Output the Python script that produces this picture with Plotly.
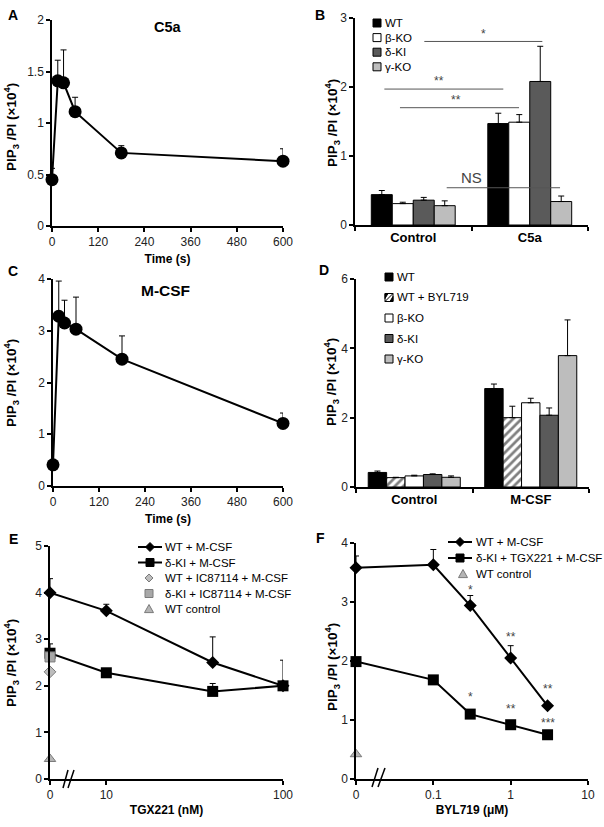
import math
import plotly.graph_objects as go

W, H = 604, 827
FONT = "Liberation Sans"

# A / C: time courses (s)
time_s = [0, 15, 30, 60, 180, 600]
c5a_pip3 = [0.45, 1.41, 1.39, 1.11, 0.71, 0.63]
c5a_err = [0.11, 0.20, 0.32, 0.14, 0.07, 0.12]
mcsf_pip3 = [0.41, 3.28, 3.15, 3.03, 2.45, 1.21]
mcsf_err = [0.05, 0.68, 0.44, 0.62, 0.45, 0.20]

# B: C5a bars
groups_b = ["Control", "C5a"]
names_b = ["WT", "β-KO", "δ-KI", "γ-KO"]
b_wt = [0.44, 1.47]
b_wt_err = [0.06, 0.15]
b_bko = [0.31, 1.49]
b_bko_err = [0.02, 0.11]
b_dki = [0.36, 2.08]
b_dki_err = [0.04, 0.51]
b_gko = [0.28, 0.34]
b_gko_err = [0.07, 0.08]
# significance bars (category units)
sig_x0 = [0.095, -0.248, -0.114, 0.287]
sig_x1 = [1.108, 0.773, 0.908, 1.26]
sig_y = [2.66, 1.97, 1.70, 0.54]
sig_label = ["*", "**", "**", "NS"]
sig_label_x = [0.60, 0.22, 0.37, 0.50]
sig_label_y = [2.77, 2.08, 1.81, 0.69]

# D: M-CSF bars
groups_d = ["Control", "M-CSF"]
names_d = ["WT", "WT + BYL719", "β-KO", "δ-KI", "γ-KO"]
d_wt = [0.42, 2.84]
d_wt_err = [0.04, 0.13]
d_byl = [0.27, 2.00]
d_byl_err = [0.01, 0.33]
d_bko = [0.32, 2.43]
d_bko_err = [0.02, 0.13]
d_dki = [0.36, 2.07]
d_dki_err = [0.02, 0.21]
d_gko = [0.28, 3.79]
d_gko_err = [0.04, 1.03]

# E: TGX221 dose (nM)
names_e = ["WT + M-CSF", "δ-KI + M-CSF", "WT + IC87114 + M-CSF",
           "δ-KI + IC87114 + M-CSF", "WT control"]
tgx_nM = [0, 10, 40, 100]
e_wt = [4.00, 3.61, 2.50, 2.00]
e_wt_err = [0.30, 0.14, 0.55, 0.55]
e_dki = [2.70, 2.28, 1.88, 2.00]
e_dki_err = [0.20, 0.05, 0.17, 0.05]
e_wt_ic = [2.30]
e_dki_ic = [2.62]
e_ctrl = [0.43]

# F: BYL719 dose (uM)
names_f = ["WT + M-CSF", "δ-KI + TGX221 + M-CSF", "WT control"]
byl_uM = [0, 0.1, 0.3, 1, 3]
f_wt = [3.58, 3.63, 2.94, 2.05, 1.24]
f_wt_err = [0.20, 0.26, 0.17, 0.21, 0.02]
f_dki = [1.99, 1.68, 1.10, 0.92, 0.75]
f_dki_err = [0.02, 0.02, 0.02, 0.02, 0.02]
f_ctrl = [0.42]
f_wt_stars = ["", "", "*", "**", "**"]
f_wt_star_y = [0, 0, 3.20, 2.41, 1.52]
f_dki_stars = ["", "", "*", "**", "***"]
f_dki_star_y = [0, 0, 1.39, 1.19, 0.95]

# where "0" sits on the broken log axes
ZERO_E = 4.8
ZERO_F = 0.01

DARK = "#5a5a5a"
LIGHT = "#bdbdbd"
GREY_EDGE = "#7a7a7a"


def fx(px):
    return px / W


def fy(py):
    return 1 - py / H


def on_log(vals, zero):
    return [zero if v == 0 else v for v in vals]


def err(arr):
    return dict(type="data", array=arr, symmetric=False, arrayminus=[0] * len(arr),
                color="black", thickness=1, width=3)


fig = go.Figure()
shapes = []
ann = []

# ---- A
fig.add_trace(go.Scatter(x=time_s, y=c5a_pip3, mode="lines+markers",
                         line=dict(color="black", width=2), marker=dict(size=13, color="black"),
                         error_y=err(c5a_err), cliponaxis=False, xaxis="x", yaxis="y"))

# ---- C
fig.add_trace(go.Scatter(x=time_s, y=mcsf_pip3, mode="lines+markers",
                         line=dict(color="black", width=2), marker=dict(size=13, color="black"),
                         error_y=err(mcsf_err), cliponaxis=False, xaxis="x3", yaxis="y3"))

# ---- B
b_series = [(b_wt, b_wt_err, "black"), (b_bko, b_bko_err, "white"),
            (b_dki, b_dki_err, DARK), (b_gko, b_gko_err, LIGHT)]
wb = 0.18
for i, (name, (vals, e, col)) in enumerate(zip(names_b, b_series)):
    fig.add_trace(go.Bar(x=groups_b, y=vals, name=name, error_y=err(e),
                         width=wb, offset=(i - len(b_series) / 2) * wb,
                         marker=dict(color=col, line=dict(color="black", width=1)),
                         xaxis="x2", yaxis="y2"))

# ---- D
d_series = [(d_wt, d_wt_err, "black", ""), (d_byl, d_byl_err, "white", "/"),
            (d_bko, d_bko_err, "white", ""), (d_dki, d_dki_err, DARK, ""),
            (d_gko, d_gko_err, LIGHT, "")]
wd = 0.158
for i, (name, (vals, e, col, pat)) in enumerate(zip(names_d, d_series)):
    mk = dict(color=col, line=dict(color="black", width=1))
    if pat:
        mk["pattern"] = dict(shape=pat, fgcolor="black", bgcolor="white", size=6, solidity=0.45)
    fig.add_trace(go.Bar(x=groups_d, y=vals, name=name, error_y=err(e), marker=mk,
                         width=wd, offset=(i - len(d_series) / 2) * wd,
                         xaxis="x4", yaxis="y4"))

# ---- E
xe = on_log(tgx_nM, ZERO_E)
fig.add_trace(go.Scatter(x=xe, y=e_wt, name=names_e[0], mode="lines+markers",
                         line=dict(color="black", width=2),
                         marker=dict(symbol="diamond", size=10, color="black"),
                         error_y=err(e_wt_err), cliponaxis=False, xaxis="x5", yaxis="y5"))
fig.add_trace(go.Scatter(x=xe, y=e_dki, name=names_e[1], mode="lines+markers",
                         line=dict(color="black", width=2),
                         marker=dict(symbol="square", size=11, color="black"),
                         error_y=err(e_dki_err), cliponaxis=False, xaxis="x5", yaxis="y5"))
fig.add_trace(go.Scatter(x=xe[:1], y=e_wt_ic, name=names_e[2], mode="markers",
                         marker=dict(symbol="diamond", size=9, color=LIGHT,
                                     line=dict(color=GREY_EDGE, width=1)),
                         cliponaxis=False, xaxis="x5", yaxis="y5"))
fig.add_trace(go.Scatter(x=xe[:1], y=e_dki_ic, name=names_e[3], mode="markers",
                         marker=dict(symbol="square", size=10, color="#a8a8a8",
                                     line=dict(color=GREY_EDGE, width=1)),
                         cliponaxis=False, xaxis="x5", yaxis="y5"))
fig.add_trace(go.Scatter(x=xe[:1], y=e_ctrl, name=names_e[4], mode="markers",
                         marker=dict(symbol="triangle-up", size=10, color="#b5b5b5",
                                     line=dict(color=GREY_EDGE, width=1)),
                         cliponaxis=False, xaxis="x5", yaxis="y5"))

# ---- F
xf = on_log(byl_uM, ZERO_F)
fig.add_trace(go.Scatter(x=xf, y=f_wt, name=names_f[0], mode="lines+markers",
                         line=dict(color="black", width=2),
                         marker=dict(symbol="diamond", size=10, color="black"),
                         error_y=err(f_wt_err), cliponaxis=False, xaxis="x6", yaxis="y6"))
fig.add_trace(go.Scatter(x=xf, y=f_dki, name=names_f[1], mode="lines+markers",
                         line=dict(color="black", width=2),
                         marker=dict(symbol="square", size=11, color="black"),
                         error_y=err(f_dki_err), cliponaxis=False, xaxis="x6", yaxis="y6"))
fig.add_trace(go.Scatter(x=xf[:1], y=f_ctrl, name=names_f[2], mode="markers",
                         marker=dict(symbol="triangle-up", size=10, color="#b5b5b5",
                                     line=dict(color=GREY_EDGE, width=1)),
                         cliponaxis=False, xaxis="x6", yaxis="y6"))

# ---- axes
tickfont = dict(family=FONT, size=12, color="#222")
titlefont = dict(family=FONT, size=12, color="black", weight="bold")
catfont = dict(family=FONT, size=13, color="black", weight="bold")
base = dict(showline=True, linecolor="black", linewidth=1.5, ticks="outside", ticklen=4,
            tickwidth=1.5, tickcolor="black", showgrid=False, zeroline=False,
            automargin=False, tickfont=tickfont, title_font=titlefont)

fig.update_layout(
    xaxis=dict(base, domain=[fx(52), fx(283)], range=[0, 600], dtick=120, anchor="y",
               title=dict(text="Time (s)", standoff=6)),
    yaxis=dict(base, domain=[fy(226), fy(20)], range=[0, 2.0005], anchor="x",
               tickvals=[0, 0.5, 1, 1.5, 2], ticktext=["0", "0.5", "1", "1.5", "2"]),
    xaxis2=dict(base, domain=[fx(355), fx(588)], anchor="y2", tickson="boundaries",
                range=[-0.5, 1.5], tickfont=catfont),
    yaxis2=dict(base, domain=[fy(225), fy(18)], range=[0, 3], dtick=1, anchor="x2"),
    xaxis3=dict(base, domain=[fx(53), fx(283)], range=[0, 600], dtick=120, anchor="y3",
                title=dict(text="Time (s)", standoff=6)),
    yaxis3=dict(base, domain=[fy(486), fy(279)], range=[0, 4], dtick=1, anchor="x3"),
    xaxis4=dict(base, domain=[fx(356), fx(589)], anchor="y4", tickson="boundaries",
                range=[-0.5, 1.5], tickfont=catfont),
    yaxis4=dict(base, domain=[fy(487), fy(279)], range=[0, 6], dtick=2, anchor="x4"),
    xaxis5=dict(base, domain=[fx(50), fx(283)], type="log", anchor="y5",
                range=[math.log10(ZERO_E), 2], tickvals=[ZERO_E, 10, 100],
                ticktext=["0", "10", "100"], title=dict(text="TGX221 (nM)", standoff=4)),
    yaxis5=dict(base, domain=[fy(779), fy(546)], range=[0, 5.001], anchor="x5",
                tickvals=[0, 1, 2, 3, 4, 5]),
    xaxis6=dict(base, domain=[fx(356), fx(588)], type="log", anchor="y6",
                range=[math.log10(ZERO_F), 1], tickvals=[ZERO_F, 0.1, 1, 10],
                ticktext=["0", "0.1", "1", "10"], title=dict(text="BYL719 (μM)", standoff=4)),
    yaxis6=dict(base, domain=[fy(779), fy(543)], range=[0, 4], dtick=1, anchor="x6"),
)


# ---- hand-drawn legends (pixel layout)
def leg_text(x, y, text):
    ann.append(dict(x=fx(x), y=fy(y), xref="paper", yref="paper", text=text,
                    xanchor="left", yanchor="middle", showarrow=False,
                    font=dict(family=FONT, size=11.5, color="black")))


def leg_box(cx, cy, half, fill, edge="black"):
    shapes.append(dict(type="rect", xref="paper", yref="paper",
                       x0=fx(cx - half), x1=fx(cx + half), y0=fy(cy + half), y1=fy(cy - half),
                       fillcolor=fill, line=dict(color=edge, width=1)))


def leg_poly(pts, fill, edge):
    path = "M" + " L".join(f"{fx(x):.5f},{fy(y):.5f}" for x, y in pts) + " Z"
    shapes.append(dict(type="path", xref="paper", yref="paper", path=path,
                       fillcolor=fill, line=dict(color=edge, width=1)))


def leg_line(x0, x1, y):
    shapes.append(dict(type="line", xref="paper", yref="paper", x0=fx(x0), x1=fx(x1),
                       y0=fy(y), y1=fy(y), line=dict(color="black", width=2)))


def diamond(cx, cy, r):
    return [(cx, cy - r), (cx + r, cy), (cx, cy + r), (cx - r, cy)]


def triangle(cx, cy, r):
    return [(cx, cy - r), (cx + r, cy + r * 0.8), (cx - r, cy + r * 0.8)]


# B legend
for i, (name, (_, _, col)) in enumerate(zip(names_b, b_series)):
    y = 23 + i * 14.6
    leg_box(377, y, 4, col)
    leg_text(383, y, name)

# D legend
for i, (name, (_, _, col, pat)) in enumerate(zip(names_d, d_series)):
    y = 277 + i * 20.5
    leg_box(389, y, 4, col)
    if pat:
        shapes.append(dict(type="line", xref="paper", yref="paper", x0=fx(385), x1=fx(393),
                           y0=fy(y + 4), y1=fy(y - 4), line=dict(color="black", width=1)))
        leg_poly([(385, y + 1), (388, y - 4), (385, y - 4)], "black", "black")
        leg_poly([(390, y + 4), (393, y - 1), (393, y + 4)], "black", "black")
    leg_text(395, y, name)

# E legend
for i, name in enumerate(names_e):
    y = 547 + i * 15.5
    if i == 0:
        leg_line(138, 162, y)
        leg_poly(diamond(150, y, 4.5), "black", "black")
    elif i == 1:
        leg_line(138, 162, y)
        leg_box(150, y, 4, "black")
    elif i == 2:
        leg_poly(diamond(149, y, 4), LIGHT, GREY_EDGE)
    elif i == 3:
        leg_box(149, y, 4, "#a8a8a8", GREY_EDGE)
    else:
        leg_poly(triangle(149, y, 4.5), "#b5b5b5", GREY_EDGE)
    leg_text(163, y, name)

# F legend
for i, name in enumerate(names_f):
    y = 542 + i * 16
    if i == 0:
        leg_line(448, 472, y)
        leg_poly(diamond(460, y, 4.5), "black", "black")
    elif i == 1:
        leg_line(448, 472, y)
        leg_box(460, y, 4, "black")
    else:
        leg_poly(triangle(463, y, 4.5), "#b5b5b5", GREY_EDGE)
    leg_text(474, y, name)


def label(xp, yp, text, size, angle=0):
    ann.append(dict(x=fx(xp), y=fy(yp), xref="paper", yref="paper", text=text,
                    xanchor="center", yanchor="middle", textangle=angle, showarrow=False,
                    font=dict(family=FONT, size=size, color="black")))


# ---- y titles, panel letters, panel titles
ytitle = "<b>PIP<sub>3</sub> /PI (×10<sup>4</sup>)</b>"
for xp, yp in [(11, 127), (332, 123), (11, 383), (331, 382), (11, 663), (332, 667)]:
    label(xp, yp, ytitle, 13.5, -90)
for letter, xp, yp in [("A", 13, 15), ("B", 320, 15), ("C", 13, 271), ("D", 324, 270),
                       ("E", 13, 539), ("F", 320, 538)]:
    label(xp, yp, f"<b>{letter}</b>", 14)
label(168, 27, "<b>C5a</b>", 14.5)
label(165, 290, "<b>M-CSF</b>", 15.5)

# axis breaks
for (x0, y0, x1, y1) in [(63, 788, 68, 770), (68, 788, 74, 770),
                         (372, 787, 378, 768), (378, 787, 385, 768)]:
    shapes.append(dict(type="line", xref="paper", yref="paper", x0=fx(x0), y0=fy(y0),
                       x1=fx(x1), y1=fy(y1), line=dict(color="black", width=1.5)))

# B significance
for x0, x1, y in zip(sig_x0, sig_x1, sig_y):
    shapes.append(dict(type="line", xref="x2", yref="y2", x0=x0, x1=x1, y0=y, y1=y,
                       line=dict(color="#555", width=1)))
for lab, x, y in zip(sig_label, sig_label_x, sig_label_y):
    ann.append(dict(x=x, y=y, xref="x2", yref="y2", text=lab, showarrow=False,
                    font=dict(family=FONT, size=15 if lab == "NS" else 12, color="#444")))

# F stars
for stars, ys in [(f_wt_stars, f_wt_star_y), (f_dki_stars, f_dki_star_y)]:
    for c, lab, y in zip(byl_uM, stars, ys):
        if lab:
            ann.append(dict(x=math.log10(c), y=y, xref="x6", yref="y6", text=lab,
                            showarrow=False, font=dict(family=FONT, size=12, color="#444")))

fig.update_layout(
    width=W, height=H, margin=dict(l=0, r=0, t=0, b=0),
    paper_bgcolor="white", plot_bgcolor="white", showlegend=False,
    barmode="group",
    font=dict(family=FONT, color="black"),
    annotations=ann, shapes=shapes,
)

fig.write_html("out.html", config={"displayModeBar": False},
               post_script="document.body.style.margin='0';")
